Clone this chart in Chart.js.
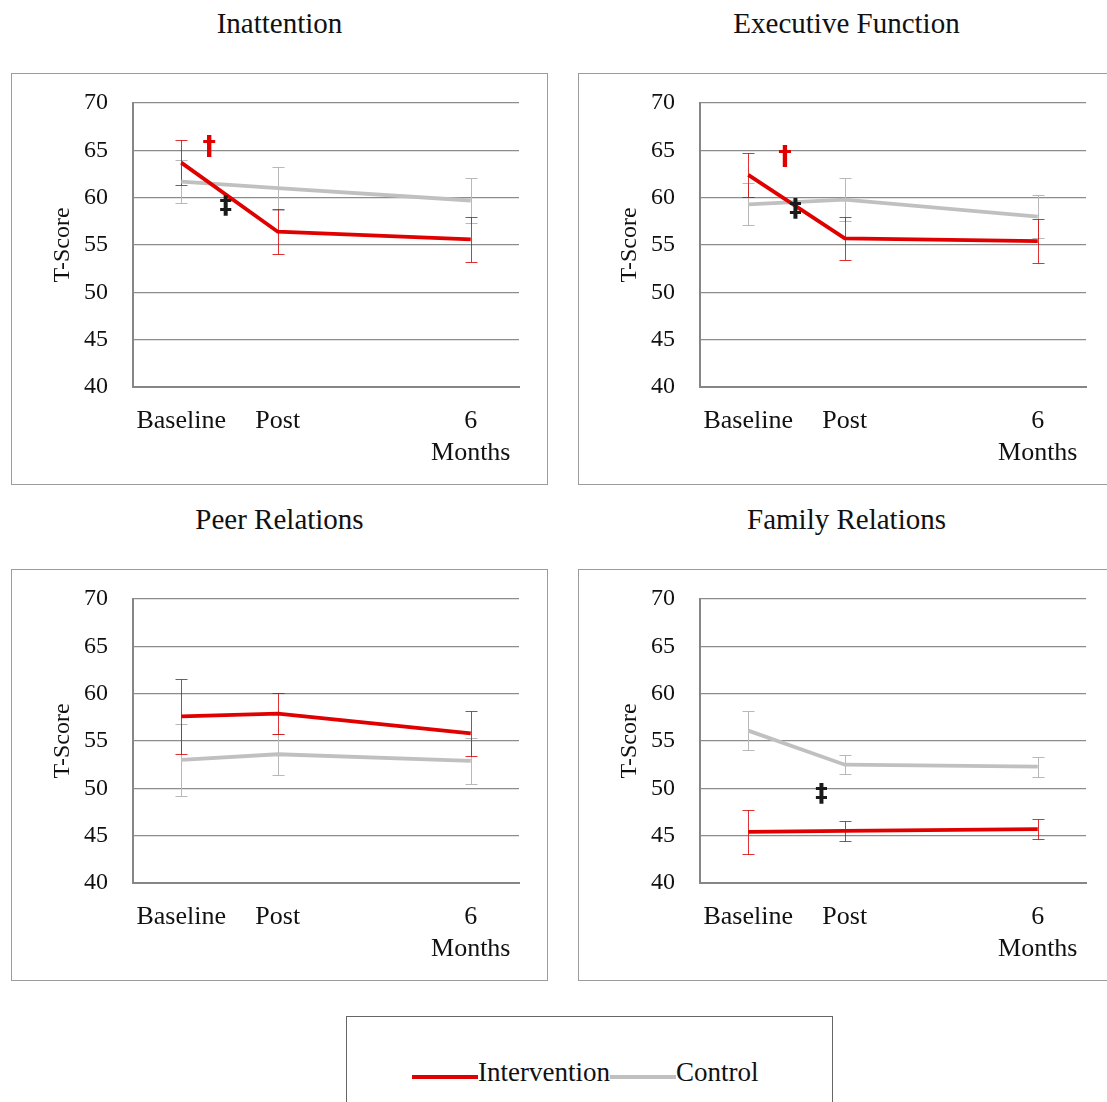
<!DOCTYPE html>
<html>
<head>
<meta charset="utf-8">
<script src="https://cdn.jsdelivr.net/npm/chart.js@4.4.0/dist/chart.umd.min.js"></script>
<style>
  html, body { margin: 0; padding: 0; background: #fff; }
  body { width: 1107px; height: 1102px; overflow: hidden; position: relative; font-family: "Liberation Serif", serif; color: #111; }
  .title { position: absolute; width: 537px; text-align: center; font-size: 29px; line-height: 30px; }
  .box { position: absolute; width: 537px; height: 412px; border: 1px solid #9c9c9c; box-sizing: border-box; }
  .box canvas { display: block; }
  .legend { position: absolute; left: 346px; top: 1016px; width: 487px; height: 120px; border: 1px solid #666; box-sizing: border-box; }
  .legend-row { position: absolute; left: 412px; top: 1059px; display: flex; align-items: flex-start; font-size: 27px; line-height: 27px; white-space: nowrap; }
  .swatch { width: 66px; height: 4px; margin-top: 16px; }
</style>
</head>
<body>
<div class="legend"></div>
<div class="legend-row" id="legendRow"></div>

<script>
// values
const panelTitles = ["Inattention", "Executive Function", "Peer Relations", "Family Relations"];
const timeLabels = [["Baseline"], ["Post"], ["6", "Months"]];
const timePos = [0, 1, 3];
const seriesNames = ["Intervention", "Control"];

const interventionMeans = [
  [63.7, 56.4, 55.6],
  [62.4, 55.7, 55.4],
  [57.6, 57.9, 55.8],
  [45.4, 45.5, 45.7]
];
const interventionErr = [
  [2.4, 2.4, 2.4],
  [2.35, 2.3, 2.35],
  [4.0, 2.2, 2.4],
  [2.3, 1.1, 1.05]
];
const controlMeans = [
  [61.7, 61.0, 59.7],
  [59.3, 59.8, 58.0],
  [53.0, 53.6, 52.9],
  [56.1, 52.5, 52.3]
];
const controlErr = [
  [2.3, 2.25, 2.35],
  [2.2, 2.25, 2.25],
  [3.8, 2.15, 2.4],
  [2.1, 1.0, 1.05]
];
const yMin = 40, yMax = 70, yStep = 5;

// significance marks (dagger = intervention, double dagger = group x time)
const sigMarks = [
  [{ x: 0.29, y: 65.2, text: "\u2020", kind: "int" }, { x: 0.46, y: 59.1, text: "\u2021", kind: "grp" }],
  [{ x: 0.38, y: 64.2, text: "\u2020", kind: "int" }, { x: 0.49, y: 58.7, text: "\u2021", kind: "grp" }],
  [],
  [{ x: 0.76, y: 49.3, text: "\u2021", kind: "grp" }]
];

const RED = "#e00000";
const GREY = "#c0c0c0";
const RED_ERR = "rgba(214, 0, 0, 0.8)";
const GREY_ERR = "#b8b8b8";
const GRID = "#8c8c8c";
const AXIS = "#868686";
const TEXT = "#111";
const FONT = '"Liberation Serif", serif';

Chart.defaults.font.family = FONT;
Chart.defaults.color = TEXT;

const errorBars = {
  id: "errorBars",
  beforeDatasetsDraw(chart) {
    const { ctx, scales: { x, y } } = chart;
    chart.data.datasets.slice().reverse().forEach(ds => {
      ctx.save();
      ctx.strokeStyle = ds.errColor;
      ctx.lineWidth = 1;
      ds.data.forEach((p, j) => {
        const px = Math.round(x.getPixelForValue(p.x)) + 0.5;
        const top = Math.round(y.getPixelForValue(p.y + ds.errors[j])) + 0.5;
        const bot = Math.round(y.getPixelForValue(p.y - ds.errors[j])) + 0.5;
        ctx.beginPath();
        ctx.moveTo(px, top); ctx.lineTo(px, bot);
        ctx.moveTo(px - 6, top); ctx.lineTo(px + 6, top);
        ctx.moveTo(px - 6, bot); ctx.lineTo(px + 6, bot);
        ctx.stroke();
      });
      ctx.restore();
    });
  }
};

const marks = {
  id: "marks",
  afterDatasetsDraw(chart, args, opts) {
    const { ctx, scales: { x, y } } = chart;
    (opts.items || []).forEach(m => {
      ctx.save();
      ctx.font = (m.kind === "int" ? "bold 27px " : "bold 25px ") + '"DejaVu Sans", sans-serif';
      ctx.fillStyle = m.kind === "int" ? RED : "#1a1a1a";
      ctx.textAlign = "center";
      ctx.textBaseline = "middle";
      ctx.fillText(m.text, x.getPixelForValue(m.x), y.getPixelForValue(m.y));
      ctx.restore();
    });
  }
};

const boxPos = [
  { left: 11, top: 73 }, { left: 578, top: 73 },
  { left: 11, top: 569 }, { left: 578, top: 569 }
];

panelTitles.forEach((t, i) => {
  const title = document.createElement("div");
  title.className = "title";
  title.style.left = boxPos[i].left + "px";
  title.style.top = (boxPos[i].top - 65) + "px";
  title.textContent = t;
  document.body.appendChild(title);

  const box = document.createElement("div");
  box.className = "box";
  box.style.left = boxPos[i].left + "px";
  box.style.top = boxPos[i].top + "px";
  const canvas = document.createElement("canvas");
  canvas.width = 535;
  canvas.height = 410;
  box.appendChild(canvas);
  document.body.appendChild(box);

  new Chart(canvas, {
    type: "line",
    data: {
      datasets: [
        {
          label: seriesNames[0],
          data: timePos.map((x, j) => ({ x, y: interventionMeans[i][j] })),
          errors: interventionErr[i],
          errColor: RED_ERR,
          borderColor: RED,
          borderWidth: 3.8,
          pointRadius: 0,
          tension: 0
        },
        {
          label: seriesNames[1],
          data: timePos.map((x, j) => ({ x, y: controlMeans[i][j] })),
          errors: controlErr[i],
          errColor: GREY_ERR,
          borderColor: GREY,
          borderWidth: 3.8,
          pointRadius: 0,
          tension: 0
        }
      ]
    },
    options: {
      responsive: false,
      animation: false,
      devicePixelRatio: 1,
      layout: { padding: { top: 29, right: 28, left: 0, bottom: 0 } },
      plugins: {
        legend: { display: false },
        tooltip: { enabled: false },
        marks: { items: sigMarks[i] }
      },
      scales: {
        x: {
          type: "linear",
          min: -0.5,
          max: 3.5,
          grid: { display: false, drawTicks: false },
          border: { display: true, color: AXIS, width: 2 },
          ticks: {
            autoSkip: false,
            maxRotation: 0,
            padding: 18,
            color: TEXT,
            font: { size: 26, lineHeight: 32 / 26 },
            callback: v => timeLabels[timePos.indexOf(v)]
          },
          afterBuildTicks: s => { s.ticks = timePos.map(v => ({ value: v })); },
          afterFit: s => { s.height = 97; s.paddingLeft = 0; s.paddingRight = 0; }
        },
        y: {
          min: yMin,
          max: yMax,
          ticks: { stepSize: yStep, padding: 25, color: TEXT, font: { size: 24 } },
          grid: { color: GRID, lineWidth: 1.3, drawTicks: false },
          border: { color: AXIS, width: 2 },
          title: { display: true, text: "T-Score", color: TEXT, font: { size: 24 }, padding: { top: 36, bottom: 0 } },
          afterFit: s => { s.width = 121; s.paddingTop = 0; s.paddingBottom = 0; }
        }
      }
    },
    plugins: [errorBars, marks]
  });
});

// legend
const row = document.getElementById("legendRow");
[RED, GREY].forEach((c, k) => {
  const sw = document.createElement("span");
  sw.className = "swatch";
  sw.style.background = c;
  row.appendChild(sw);
  const lab = document.createElement("span");
  lab.textContent = seriesNames[k];
  row.appendChild(lab);
});
</script>
</body>
</html>
